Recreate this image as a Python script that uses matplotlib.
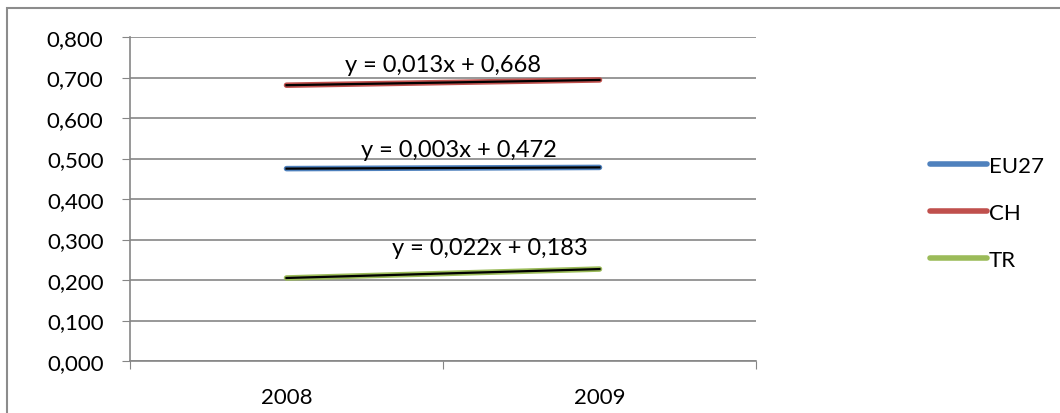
import numpy as np
import matplotlib
matplotlib.use("Agg")
from matplotlib import pyplot as plt
from matplotlib.patches import Rectangle
from matplotlib.lines import Line2D

plt.rcParams['font.family'] = ['Lato', 'DejaVu Sans']

years = ["2008", "2009"]
series_names = ["EU27", "CH", "TR"]
eu27 = [0.475, 0.478]
ch = [0.681, 0.694]
tr = [0.205, 0.227]
colors = ["#4F81BD", "#C0504D", "#9BBB59"]
yticks = [0.0, 0.1, 0.2, 0.3, 0.4, 0.5, 0.6, 0.7, 0.8]

W, H = 1060, 414
fs = 16
fig = plt.figure(figsize=(W / 100, H / 100), dpi=100)
# plot area in pixels: x 130..756, y 38..362
ax = fig.add_axes([130 / W, 1 - 362 / H, (756 - 130) / W, (362 - 38) / H])

# outer chart border
fig.patches.append(Rectangle((7 / W, -0.1), 1.1, 1 - 9 / H + 0.1,
                             transform=fig.transFigure, fill=False,
                             edgecolor="#8c8c8c", lw=1.5))

x = np.arange(1, len(years) + 1)
label_pos = {"EU27": (1.55, 0.506), "CH": (1.5, 0.716), "TR": (1.65, 0.264)}
for name, vals, c in zip(series_names, [eu27, ch, tr], colors):
    ax.plot(x, vals, color=c, lw=4, solid_capstyle="round", zorder=3)
    k, b = np.polyfit(x, vals, 1)
    ax.plot(x, k * x + b, color="black", lw=1.6, zorder=4)
    lx, ly = label_pos[name]
    txt = "y = %.3fx + %.3f" % (k, b)
    ax.text(lx, ly, txt.replace(".", ","), ha="center", va="baseline",
            fontsize=17, zorder=5)

ax.set_xlim(0.5, 2.5)
ax.set_ylim(0, 0.8)
ax.set_yticks(yticks)
ax.set_yticklabels([("%.3f" % v).replace(".", ",") for v in yticks], fontsize=fs)
ax.yaxis.grid(True, color="#868686", lw=1.2)
ax.set_axisbelow(True)
ax.tick_params(axis="y", length=6, color="#868686", pad=13)

ax.set_xticks([0.5, 1.5, 2.5])
ax.set_xticklabels([])
ax.tick_params(axis="x", which="major", length=6, color="#868686", direction="out")
ax.set_xticks(x, minor=True)
ax.set_xticklabels(years, minor=True, fontsize=fs)
ax.tick_params(axis="x", which="minor", length=0, pad=19)

for s in ["top", "right"]:
    ax.spines[s].set_visible(False)
for s in ["left", "bottom"]:
    ax.spines[s].set_color("#868686")
    ax.spines[s].set_linewidth(1.2)

handles = [Line2D([0], [0], color=c, lw=4, solid_capstyle="round") for c in colors]
fig.legend(handles, series_names, loc="center left",
           bbox_to_anchor=(921 / W, 1 - 214 / H), frameon=False,
           fontsize=fs, handlelength=2.55, handletextpad=0.1,
           labelspacing=1.22, borderaxespad=0)

fig.savefig("out.png", dpi=100)
